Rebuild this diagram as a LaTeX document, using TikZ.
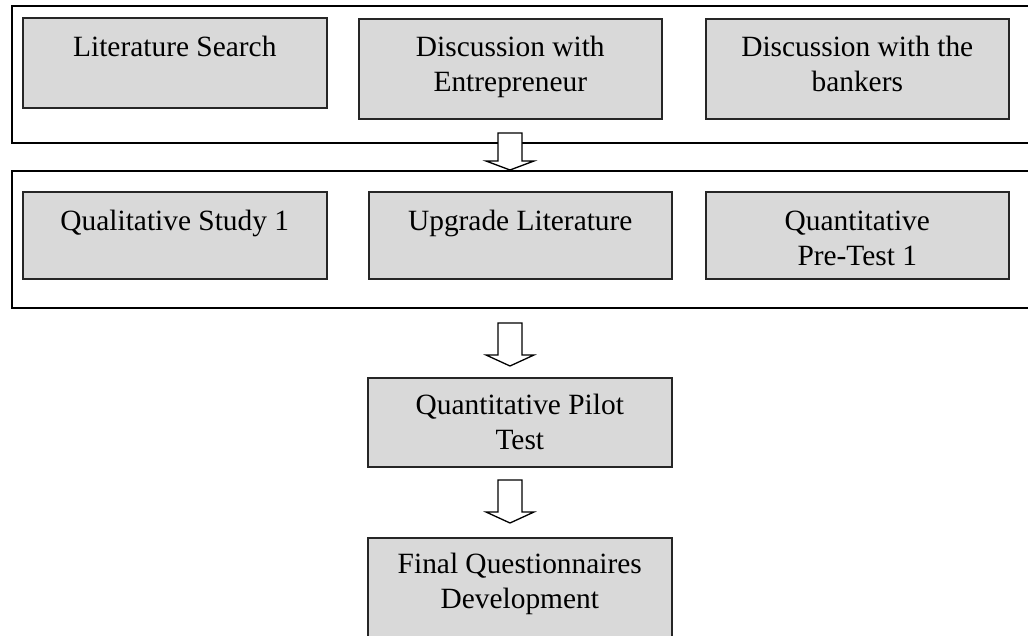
\documentclass[tikz,border=0pt]{standalone}
\usepackage{fontspec}
\setmainfont{Liberation Serif}
\begin{document}
\begin{tikzpicture}[x=1pt,y=-1pt,
  outerbox/.style={draw=black, line width=1.6pt, anchor=north west, inner sep=0pt},
  stepbox/.style={draw=black!85, fill=gray!30, line width=1.6pt, anchor=north west, inner sep=0pt},
  lbl/.style={anchor=base, inner sep=0pt, font=\fontsize{29.4}{35}\selectfont},
  blockarrow/.style={draw=black, fill=white, line width=1.3pt, line join=miter}]
\useasboundingbox (0,0) rectangle (1028,636);
\clip (0,0) rectangle (1028,636);
% outer frames
\node[outerbox, minimum width=1040pt, minimum height=137pt] (o1) at (11,5) {};
\node[outerbox, minimum width=1040pt, minimum height=137pt] (o2) at (11,170) {};
% row 1
\node[stepbox, minimum width=304pt, minimum height=90pt] (b1) at (22,17) {};
\node[stepbox, minimum width=303pt, minimum height=100pt] (b2) at (358,18) {};
\node[stepbox, minimum width=303pt, minimum height=100pt] (b3) at (705,18) {};
% row 2
\node[stepbox, minimum width=304pt, minimum height=87pt] (c1) at (22,191) {};
\node[stepbox, minimum width=303pt, minimum height=87pt] (c2) at (368,191) {};
\node[stepbox, minimum width=303pt, minimum height=87pt] (c3) at (705,191) {};
% lower column
\node[stepbox, minimum width=304pt, minimum height=89pt] (d1) at (367,377) {};
\node[stepbox, minimum width=304pt, minimum height=120pt] (d2) at (367,537) {};
% labels
\node[lbl] (t1) at ([yshift=-40pt]b1.north) {\parbox[t]{300pt}{\centering Literature Search}};
\node[lbl] (t2) at ([yshift=-39pt]b2.north) {\parbox[t]{300pt}{\centering Discussion with\\Entrepreneur}};
\node[lbl] (t3) at ([yshift=-39pt]b3.north) {\parbox[t]{300pt}{\centering Discussion with the\\bankers}};
\node[lbl] (u1) at ([yshift=-40pt]c1.north) {\parbox[t]{300pt}{\centering Qualitative Study 1}};
\node[lbl] (u2) at ([yshift=-40pt]c2.north) {\parbox[t]{300pt}{\centering Upgrade Literature}};
\node[lbl] (u3) at ([yshift=-40pt]c3.north) {\parbox[t]{300pt}{\centering Quantitative\\Pre-Test 1}};
\node[lbl] (v1) at ([yshift=-37pt]d1.north) {\parbox[t]{300pt}{\centering Quantitative Pilot\\Test}};
\node[lbl] (v2) at ([yshift=-36pt]d2.north) {\parbox[t]{300pt}{\centering Final Questionnaires\\Development}};
% block arrows
\draw[blockarrow] (498,133) -- (498,161) -- (486,161) -- (510,170) -- (534,161) -- (522,161) -- (522,133) -- cycle;
\draw[blockarrow] (498,323) -- (498,355) -- (486,355) -- (510,366) -- (534,355) -- (522,355) -- (522,323) -- cycle;
\draw[blockarrow] (498,480) -- (498,512) -- (486,512) -- (510,523) -- (534,512) -- (522,512) -- (522,480) -- cycle;
\end{tikzpicture}
\end{document}
